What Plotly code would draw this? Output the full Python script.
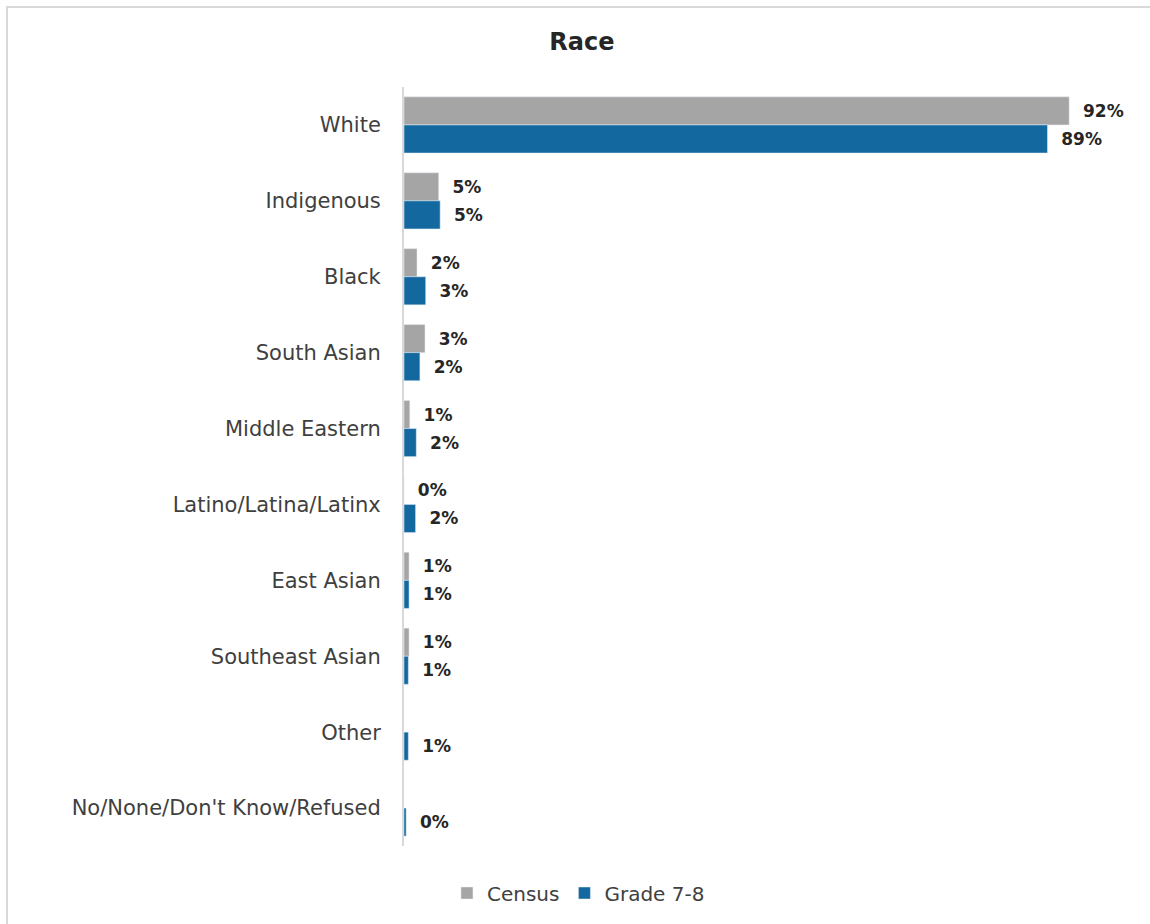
import plotly.graph_objects as go

# Race breakdown: census vs. grade 7-8 respondents (percent)
categories = [
    "White",
    "Indigenous",
    "Black",
    "South Asian",
    "Middle Eastern",
    "Latino/Latina/Latinx",
    "East Asian",
    "Southeast Asian",
    "Other",
    "No/None/Don't Know/Refused",
]
census = [92, 4.8, 1.8, 2.9, 0.8, 0, 0.7, 0.7, None, None]
grade_7_8 = [89, 5.0, 3.0, 2.2, 1.7, 1.6, 0.7, 0.6, 0.6, 0.3]

GREY = "#A5A5A5"
BLUE = "#13699F"
FONT = "'DejaVu Sans', Verdana, sans-serif"
LABEL_FONT = dict(family=FONT, size=17, color="#262626")
PAD = "\u00a0\u00a0"

fig = go.Figure()
for name, values, color in (("Census", census, GREY), ("Grade 7-8", grade_7_8, BLUE)):
    fig.add_trace(go.Bar(
        name=name, y=categories, x=values, orientation="h",
        marker=dict(color=color),
        texttemplate=PAD + "<b>%{x:.0f}%</b>", textposition="outside",
        textfont=LABEL_FONT, cliponaxis=False,
    ))

fig.update_layout(
    width=1150, height=924,
    margin=dict(l=404, r=23, t=87, b=78),
    paper_bgcolor="white", plot_bgcolor="white",
    barmode="group", bargap=0.26, bargroupgap=0,
    title=dict(
        text="<b>Race</b>", x=0.506, xref="container", xanchor="center",
        y=1 - 42 / 924, yref="container", yanchor="middle",
        font=dict(family=FONT, size=24, color="#262626"),
    ),
    legend=dict(
        orientation="h", xref="container", yref="container",
        x=0.503, xanchor="center", y=1 - 893 / 924, yanchor="middle",
        font=dict(family=FONT, size=20, color="#404040"),
        itemwidth=30, traceorder="normal",
    ),
    xaxis=dict(range=[0, 100], visible=False, showgrid=False, zeroline=False),
    yaxis=dict(
        autorange="reversed", showgrid=False, zeroline=False,
        showline=True, linecolor="#D9D9D9", linewidth=2,
        ticks="", ticklabelstandoff=17,
        tickfont=dict(family=FONT, size=21, color="#404040"),
    ),
    showlegend=True,
)

# Light frame around the chart area (top and left edges visible)
fig.add_shape(
    type="rect", xref="paper", yref="paper",
    x0=-(404 - 7) / 723, x1=(1160 - 404) / 723,
    y0=-(924 + 10 - 846) / 759, y1=(846 - 7) / 759,
    line=dict(color="#D9D9D9", width=2), fillcolor="rgba(0,0,0,0)",
    layer="below",
)

fig.write_html("out.html")
